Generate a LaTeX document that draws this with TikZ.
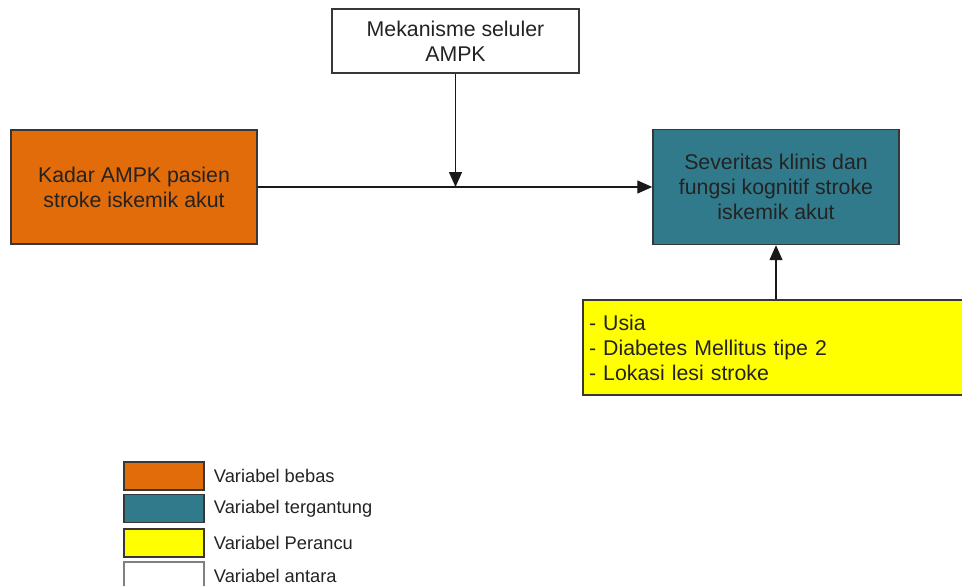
\documentclass[tikz,border=0pt]{standalone}
\usepackage{fontspec}
\setmainfont{Liberation Sans}
\usepackage{tikz}
\usetikzlibrary{arrows.meta}
\usetikzlibrary{calc}

\definecolor{bebascol}{RGB}{226,107,10}
\definecolor{tergantungcol}{RGB}{49,122,140}
\definecolor{perancucol}{RGB}{255,255,0}
\definecolor{edgecol}{RGB}{55,55,55}
\definecolor{textcol}{RGB}{35,35,35}

\tikzset{
  varbox/.style={draw=edgecol, line width=1.4pt, rectangle, inner sep=0pt,
    text=textcol, align=center, font=\fontsize{21.3}{25}\selectfont},
  keybox/.style={draw=edgecol, line width=1.4pt, rectangle, inner sep=0pt,
    minimum width=80pt, minimum height=28pt},
  keytext/.style={anchor=west, inner sep=0pt, text=textcol,
    font=\fontsize{18.3}{22}\selectfont},
  link/.style={draw=black!90, line width=1.3pt, -{Triangle[length=15pt,width=13pt]}}
}

\begin{document}
\begin{tikzpicture}[x=1pt,y=-1pt]
  \useasboundingbox (0,0) rectangle (962,586);
  \clip (0,0) rectangle (962,586);

  % variables
  \node [varbox, fill=white, minimum width=247pt, minimum height=64pt]
    (antara) at (455.5,41) {Mekanisme seluler\\AMPK};
  \node [varbox, fill=bebascol, minimum width=246pt, minimum height=114pt]
    (bebas) at (134,187) {Kadar AMPK pasien\\stroke iskemik akut};
  \node [varbox, fill=tergantungcol, minimum width=246pt, minimum height=115pt]
    (tergantung) at (776,187) {Severitas klinis dan\\fungsi kognitif stroke\\iskemik akut};
  \node [varbox, fill=perancucol, align=left, text width=374pt, inner xsep=6pt,
    minimum height=95pt]
    (perancu) at (776,347.5) {- Usia\\- Diabetes Mellitus tipe 2\\- Lokasi lesi stroke};

  \coordinate (junction) at (antara.south |- bebas.east);

  \draw [link] (bebas.east) -- (tergantung.west);
  \draw [link] (antara.south) -- (junction);
  \draw [link] (perancu.north) -- (tergantung.south);

  % legend
  \node [keybox, fill=bebascol] (keybebas) at (164,476) {};
  \node [keybox, fill=tergantungcol] (keytergantung) at (164,508.5) {};
  \node [keybox, fill=perancucol] (keyperancu) at (164,543) {};
  \node [keybox, fill=white, draw=gray] (keyantara) at (164,576) {};

  \node [keytext] (labelbebas) at ($(keybebas.east)+(9,0)$) {Variabel bebas};
  \node [keytext] (labeltergantung) at ($(keytergantung.east)+(9,0)$) {Variabel tergantung};
  \node [keytext] (labelperancu) at ($(keyperancu.east)+(9,0)$) {Variabel Perancu};
  \node [keytext] (labelantara) at ($(keyantara.east)+(9,0)$) {Variabel antara};
\end{tikzpicture}
\end{document}
